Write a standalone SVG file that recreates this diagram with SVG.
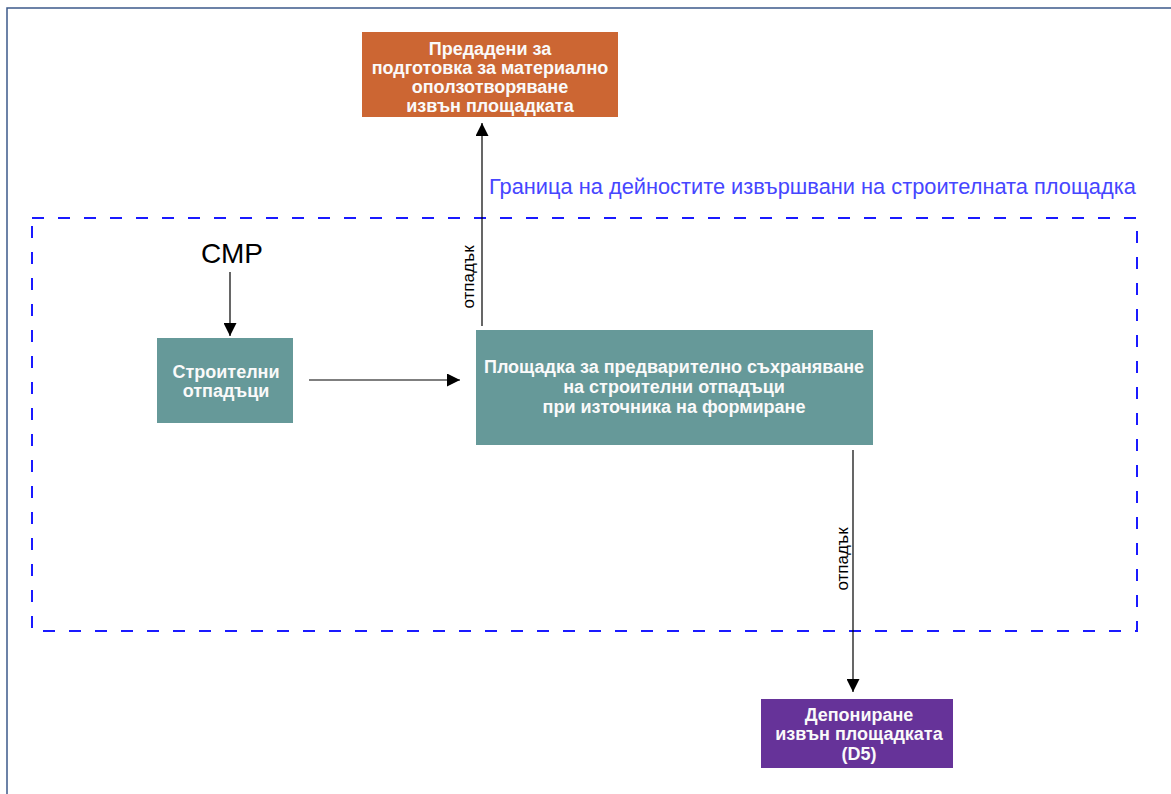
<svg xmlns="http://www.w3.org/2000/svg" width="1171" height="794" viewBox="0 0 1171 794">
<defs>
<marker id="ah" viewBox="0 0 10 10" refX="10" refY="5" markerWidth="13" markerHeight="13" markerUnits="userSpaceOnUse" orient="auto">
<path d="M0,0 L10,5 L0,10 z" fill="#000"/>
</marker>
<style>
.bt{font-family:"Liberation Sans",Arial,sans-serif;font-weight:bold;font-size:18px;fill:#fafafa;text-anchor:middle}
.lbl{font-family:"Liberation Sans",Arial,sans-serif;font-size:17px;fill:#000;text-anchor:middle}
.conn{stroke:#000;stroke-width:1.2;fill:none;marker-end:url(#ah)}
</style>
</defs>
<rect width="1171" height="794" fill="#fff"/>
<rect x="7" y="8" width="1180" height="800" fill="none" stroke="#3d5a8a" stroke-width="1.5"/>
<rect id="boundary" x="32" y="218" width="1105" height="413" fill="none" stroke="#1a1aff" stroke-width="2" stroke-dasharray="12,14"/>
<text x="489" y="194" font-family="'Liberation Sans',Arial,sans-serif" font-size="21.8" fill="#4646ff">Граница на дейностите извършвани на строителната площадка</text>
<text id="smr" x="232" y="263" font-family="'Liberation Sans',Arial,sans-serif" font-size="28" fill="#000" text-anchor="middle">СМР</text>
<g id="connectors">
<line class="conn" x1="230" y1="272" x2="230" y2="336"/>
<line class="conn" x1="309" y1="380" x2="460" y2="380"/>
<line class="conn" x1="482" y1="326" x2="482" y2="123"/>
<line class="conn" x1="853" y1="450" x2="853" y2="692"/>
<text class="lbl" transform="translate(474,277) rotate(-90)">отпадък</text>
<text class="lbl" transform="translate(848,559) rotate(-90)">отпадък</text>
</g>
<g id="n_out">
<rect x="362" y="32" width="256" height="85" fill="#cc6633"/>
<text class="bt" x="490" y="55">Предадени за</text>
<text class="bt" x="490" y="74">подготовка за материално</text>
<text class="bt" x="490" y="93">оползотворяване</text>
<text class="bt" x="490" y="112">извън площадката</text>
</g>
<g id="n_waste">
<rect x="157" y="338" width="136" height="85" fill="#669999"/>
<text class="bt" x="226" y="378">Строителни</text>
<text class="bt" x="226" y="397">отпадъци</text>
</g>
<g id="n_store">
<rect x="476" y="330" width="397" height="115" fill="#669999"/>
<text class="bt" x="674" y="373">Площадка за предварително съхраняване</text>
<text class="bt" x="674" y="393">на строителни отпадъци</text>
<text class="bt" x="674" y="413">при източника на формиране</text>
</g>
<g id="n_dep">
<rect x="761" y="699" width="192" height="69" fill="#663399"/>
<text class="bt" x="859" y="721">Депониране</text>
<text class="bt" x="859" y="740">извън площадката</text>
<text class="bt" x="859" y="760">(D5)</text>
</g>
</svg>
